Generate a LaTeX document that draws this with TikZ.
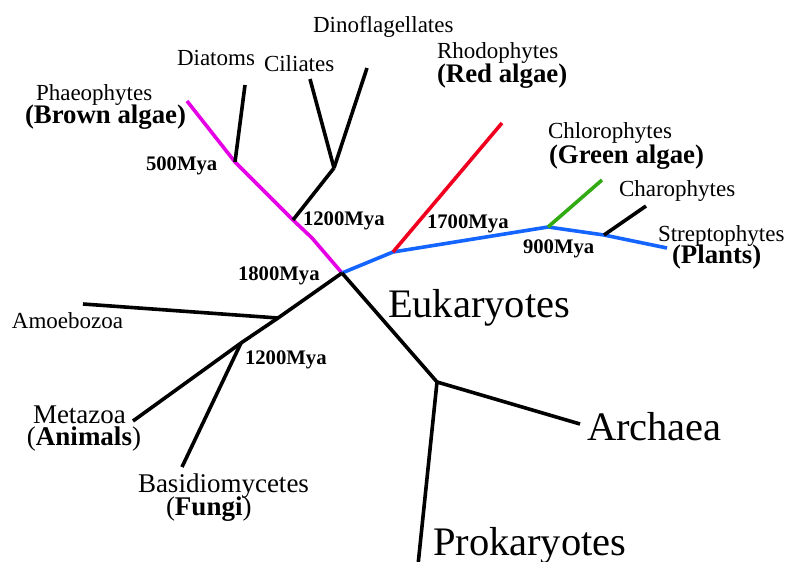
\documentclass[tikz,border=0pt]{standalone}
\usepackage{fontspec}
\setmainfont{Liberation Serif}
\begin{document}
\begin{tikzpicture}[x=1pt,y=-1pt,
  br/.style={line width=3.6pt,line join=round},
  lbl/.style={anchor=base west,inner sep=0pt,outer sep=0pt,font=\fontsize{23}{23}\selectfont},
  lblb/.style={anchor=base west,inner sep=0pt,outer sep=0pt,font=\fontsize{26.8}{27}\selectfont\bfseries},
  lblm/.style={anchor=base west,inner sep=0pt,outer sep=0pt,font=\fontsize{27}{27}\selectfont},
  mya/.style={anchor=base west,inner sep=0pt,outer sep=0pt,font=\fontsize{20.7}{21}\selectfont\bfseries},
  big/.style={anchor=base west,inner sep=0pt,outer sep=0pt,font=\fontsize{40.5}{41}\selectfont}]
\definecolor{cmag}{RGB}{230,0,230}
\definecolor{cblue}{RGB}{20,100,255}
\definecolor{cred}{RGB}{240,0,30}
\definecolor{cgreen}{RGB}{50,170,20}
\useasboundingbox[fill=white] (0,0) rectangle (787,562);
% junctions and tips
\coordinate (R) at (342,273);
\coordinate (bend) at (312,238);
\coordinate (J1200) at (293,220);
\coordinate (J500) at (235,162);
\coordinate (Ph) at (187,101);
\coordinate (Dia) at (245,85);
\coordinate (JC) at (334,168);
\coordinate (Cil) at (310,79);
\coordinate (Din) at (367,68);
\coordinate (JR) at (393,252);
\coordinate (Red) at (502,123);
\coordinate (J900) at (548,227);
\coordinate (Grn) at (602,180);
\coordinate (JCh) at (604,235);
\coordinate (Cha) at (646,206);
\coordinate (Str) at (667,248);
\coordinate (JA) at (278,318);
\coordinate (Amo) at (83,304);
\coordinate (JM) at (241,343);
\coordinate (Met) at (133,421);
\coordinate (Fun) at (182,467);
\coordinate (JP) at (437,382);
\coordinate (Arc) at (580,424);
\coordinate (Pro) at (418,565);
% branches
\draw[br,cmag] (R) -- (bend) -- (J1200) -- (J500) -- (Ph);
\draw[br] (J500) -- (Dia);
\draw[br] (J1200) -- (JC);
\draw[br] (JC) -- (Cil);
\draw[br] (JC) -- (Din);
\draw[br,cblue] (R) -- (JR) -- (J900) -- (JCh) -- (Str);
\draw[br,cred] (JR) -- (Red);
\draw[br,cgreen] (J900) -- (Grn);
\draw[br] (JCh) -- (Cha);
\draw[br] (R) -- (JA) -- (JM);
\draw[br] (JA) -- (Amo);
\draw[br] (JM) -- (Met);
\draw[br] (JM) -- (Fun);
\draw[br] (R) -- (JP);
\draw[br] (JP) -- (Arc);
\draw[br] (JP) -- (Pro);
% labels
\node[lbl] (tDin) at (313,32) {Dinoflagellates};
\node[lbl] (tDia) at (177,65) {Diatoms};
\node[lbl] (tCil) at (264,71) {Ciliates};
\node[lbl] (tPh) at (36,100) {Phaeophytes};
\node[lblb] (tPhb) at (25,123) {(Brown algae)};
\node[lbl] (tRh) at (437,58) {Rhodophytes};
\node[lblb] (tRhb) at (437,82) {(Red algae)};
\node[lbl] (tCh) at (548,138) {Chlorophytes};
\node[lblb] (tChb) at (549,163) {(Green algae)};
\node[lbl] (tCha) at (619,196) {Charophytes};
\node[lbl] (tSt) at (658,241) {Streptophytes};
\node[lblb] (tStb) at (672,263) {(Plants)};
\node[lbl] (tAmo) at (12,328) {Amoebozoa};
\node[lblm] (tMet) at (33,423) {Metazoa};
\node[lblm] (tMetb) at (27,445) {(\textbf{Animals})};
\node[lblm] (tBas) at (138,492) {Basidiomycetes};
\node[lblm] (tBasb) at (166,515) {(\textbf{Fungi})};
\node[mya] (m500) at (146,170) {500Mya};
\node[mya] (m1200a) at (303,225) {1200Mya};
\node[mya] (m1800) at (238,280) {1800Mya};
\node[mya] (m1700) at (427,228) {1700Mya};
\node[mya] (m900) at (523,253) {900Mya};
\node[mya] (m1200b) at (245,364) {1200Mya};
\node[big] (tEuk) at (388,317) {Eukaryotes};
\node[big] (tArc) at (587,440) {Archaea};
\node[big] (tPro) at (433,555) {Prokaryotes};
\end{tikzpicture}
\end{document}
